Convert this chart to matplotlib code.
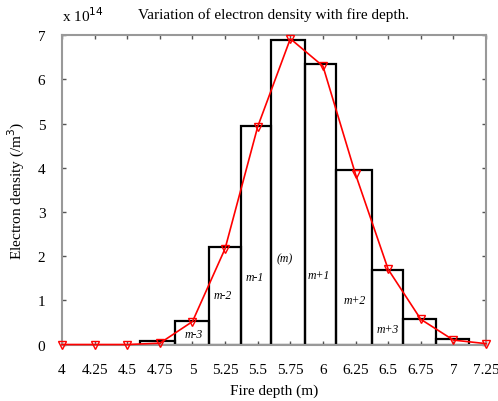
import matplotlib
matplotlib.use("Agg")
import matplotlib.pyplot as plt
import numpy as np

plt.rcParams['font.family'] = ['Liberation Serif', 'DejaVu Serif']

# Histogram bins (fire depth, m) and heights (x1e14 /m^3)
bin_edges = [4.595, 4.868, 5.127, 5.370, 5.605, 5.861, 6.099, 6.376, 6.611, 6.865, 7.120]
bin_heights = [0.08, 0.53, 2.20, 4.95, 6.90, 6.35, 3.95, 1.68, 0.58, 0.13]

# Red curve points
depth = [4.0, 4.25, 4.5, 4.75, 5.0, 5.25, 5.5, 5.75, 6.0, 6.25, 6.5, 6.75, 7.0, 7.25]
density = [0.0, 0.0, 0.0, 0.03, 0.52, 2.17, 4.93, 6.92, 6.30, 3.85, 1.70, 0.57, 0.10, 0.02]

# Bin labels
bin_labels = ['m-3', 'm-2', 'm-1', '(m)', 'm+1', 'm+2', 'm+3']
label_x = [5.01, 5.23, 5.48, 5.71, 5.97, 6.24, 6.50]
label_y = [0.24, 1.11, 1.53, 1.94, 1.58, 1.00, 0.34]

xticks = [4, 4.25, 4.5, 4.75, 5, 5.25, 5.5, 5.75, 6, 6.25, 6.5, 6.75, 7, 7.25]
xticklabels = ['4', '4.25', '4.5', '4.75', '5', '5.25', '5.5', '5.75', '6', '6.25', '6.5', '6.75', '7', '7.25']
yticks = [0, 1, 2, 3, 4, 5, 6, 7]

fig = plt.figure(figsize=(4.98, 4.02), dpi=100)
ax = fig.add_axes([0.1245, 0.1405, 0.8515, 0.7695])

widths = np.diff(bin_edges)
ax.bar(bin_edges[:-1], bin_heights, width=widths, align='edge', fill=False,
       edgecolor='black', linewidth=1.6, zorder=2)

ax.plot(depth, density, color='red', linewidth=1.2, marker='v', markersize=6,
        markerfacecolor='none', markeredgecolor='red', markeredgewidth=1.0,
        zorder=3, clip_on=False)

for lx, ly, lt in zip(label_x, label_y, bin_labels):
    ax.text(lx, ly, lt, fontsize=8.5, style='italic', ha='center', va='center')

ax.set_xlim(4, 7.25)
ax.set_ylim(0, 7)
ax.set_xticks(xticks)
ax.set_xticklabels(xticklabels)
ax.set_yticks(yticks)
ax.tick_params(direction='in', length=3, width=1, labelsize=11, top=True, right=True,
               colors='#555555', labelcolor='black')
ax.tick_params(axis='x', pad=13)
ax.tick_params(axis='y', pad=12)
for s in ax.spines.values():
    s.set_color('#999999')
    s.set_linewidth(1.5)

ax.set_xlabel('Fire depth (m)', fontsize=11, labelpad=6)
ax.set_ylabel('Electron density (/m$^3$)', fontsize=11, labelpad=8)
fig.text(0.55, 0.962, 'Variation of electron density with fire depth.', fontsize=11,
         ha='center', va='center')
fig.text(0.125, 0.962, r'x 10$^{14}$', fontsize=11, ha='left', va='center')

fig.savefig('out.png', dpi=100)
